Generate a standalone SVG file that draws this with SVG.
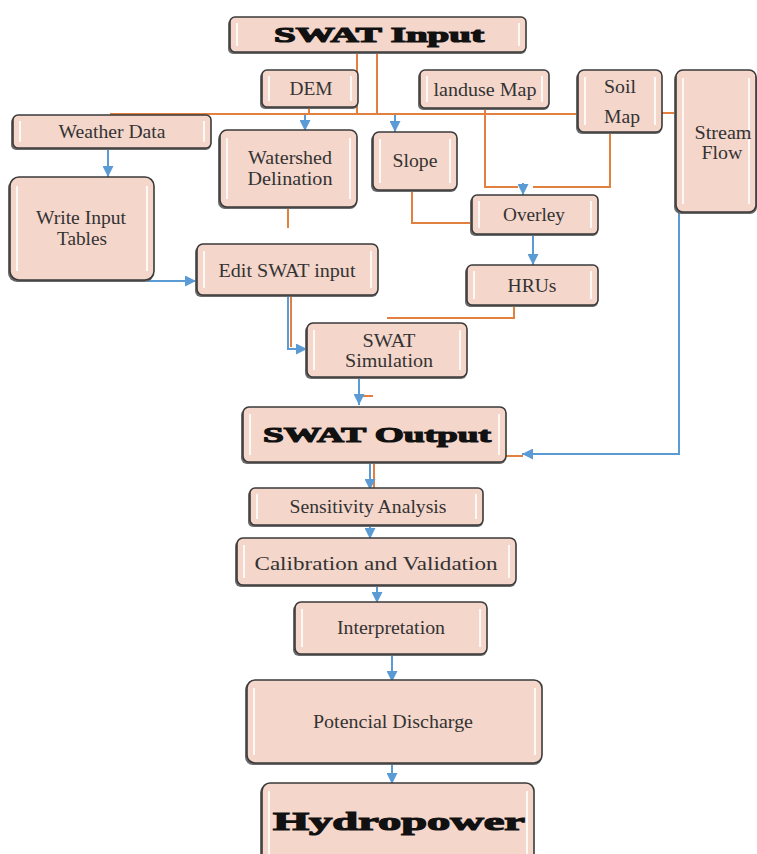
<svg xmlns="http://www.w3.org/2000/svg" width="757" height="854" viewBox="0 0 757 854">
<defs>
<marker id="ah" viewBox="0 0 10 10" refX="10" refY="5" markerWidth="11" markerHeight="11" markerUnits="userSpaceOnUse" orient="auto">
<path d="M0,0 L10,5 L0,10 z" fill="#5b9bd5"/>
</marker>
</defs>
<style>
.box{fill:#f5d6cb;stroke:#3a3a3a;stroke-width:1.6}
.sh{fill:#6a6a6a}
.hl{stroke:#ffffff;stroke-width:2;opacity:0.85;fill:none}
.t{font-family:"Liberation Serif","Times New Roman",serif;font-size:19.5px;fill:#333;text-anchor:middle}
.big{font-family:"Liberation Serif","Times New Roman",serif;font-weight:bold;fill:#111;stroke:#111;stroke-width:1.2;text-anchor:middle}
.o{stroke:#e2803f;stroke-width:2;fill:none}
.b{stroke:#5b9bd5;stroke-width:2;fill:none;marker-end:url(#ah)}
</style>
<rect width="757" height="854" fill="#ffffff"/>

<g id="connectors">
<path class="o" d="M357,52 V114" stroke-width="3"/>
<path class="o" d="M377,52 V114"/>
<path class="o" d="M110,114 H578"/>
<path class="o" d="M309,107 V114"/>
<path class="o" d="M662,113 H676"/>
<path class="o" d="M485,108 V187 H518"/>
<path class="o" d="M610,132 V187 H533"/>
<path class="o" d="M412,190 V223 H472"/>
<path class="o" d="M514,305 V318 H387"/>
<path class="o" d="M288,207 V228"/>
<path class="o" d="M360,396 H373"/>
<path class="o" d="M506,456 H523"/>
<path class="o" d="M374,462 V488"/>
<path class="o" d="M291,296 V347"/>
<path class="o" d="M195,281 H198"/>
<path class="b" d="M305,115 V131"/>
<path class="b" d="M395,115 V132"/>
<path class="b" d="M523,183 V195"/>
<path class="b" d="M108,148 V177"/>
<path class="b" d="M533,234 V265"/>
<path class="b" d="M147,281 H196"/>
<path class="b" d="M212,296 H288 V349 H307"/>
<path class="b" d="M679,212 V454 H522"/>
<path class="b" d="M359,377 V405"/>
<path class="b" d="M370,455 V490"/>
<path class="b" d="M370,525 V539"/>
<path class="b" d="M377,585 V603"/>
<path class="b" d="M392,654 V682"/>
<path class="b" d="M392,763 V784"/>
</g>

<g id="swat-input">
<rect class="sh" x="228" y="19" width="298" height="35" rx="5"/>
<rect class="box" x="230" y="17" width="296" height="35" rx="5"/>
<path class="hl" d="M237,23 V46 M519,23 V46"/>
<text class="big" x="379" y="42" font-size="21" textLength="210" lengthAdjust="spacingAndGlyphs">SWAT Input</text>
</g>

<g id="dem">
<rect class="sh" x="260" y="72" width="98" height="37" rx="5"/>
<rect class="box" x="262" y="70" width="96" height="37" rx="5"/>
<path class="hl" d="M269,76 V101 M351,76 V101"/>
<text class="t" x="311" y="95" textLength="43" lengthAdjust="spacingAndGlyphs">DEM</text>
</g>

<g id="landuse-map">
<rect class="sh" x="418" y="72" width="131" height="38" rx="5"/>
<rect class="box" x="420" y="70" width="129" height="38" rx="5"/>
<path class="hl" d="M427,76 V102 M542,76 V102"/>
<text class="t" x="485" y="96" textLength="103" lengthAdjust="spacingAndGlyphs">landuse Map</text>
</g>

<g id="soil-map">
<rect class="sh" x="576" y="72" width="86" height="62" rx="6"/>
<rect class="box" x="578" y="70" width="84" height="62" rx="6"/>
<path class="hl" d="M585,77 V125 M655,77 V125"/>
<text class="t" x="620" y="93" textLength="32" lengthAdjust="spacingAndGlyphs">Soil</text>
<text class="t" x="622" y="123" textLength="36" lengthAdjust="spacingAndGlyphs">Map</text>
</g>

<g id="stream-flow">
<rect class="sh" x="674" y="72" width="83" height="142" rx="7"/>
<rect class="box" x="676" y="70" width="80" height="142" rx="7"/>
<path class="hl" d="M683,78 V204 M749,78 V204"/>
<text class="t" x="723" y="139" textLength="57" lengthAdjust="spacingAndGlyphs">Stream</text>
<text class="t" x="722" y="159" textLength="41" lengthAdjust="spacingAndGlyphs">Flow</text>
</g>

<g id="weather-data">
<rect class="sh" x="11" y="117" width="200" height="33" rx="5"/>
<rect class="box" x="13" y="115" width="198" height="33" rx="5"/>
<path class="hl" d="M20,121 V142 M204,121 V142"/>
<text class="t" x="112" y="138" textLength="107" lengthAdjust="spacingAndGlyphs">Weather Data</text>
</g>

<g id="watershed">
<rect class="sh" x="218" y="132" width="139" height="77" rx="7"/>
<rect class="box" x="220" y="130" width="137" height="77" rx="7"/>
<path class="hl" d="M227,138 V199 M350,138 V199"/>
<text class="t" x="290" y="164" textLength="84" lengthAdjust="spacingAndGlyphs">Watershed</text>
<text class="t" x="290" y="185" textLength="85" lengthAdjust="spacingAndGlyphs">Delination</text>
</g>

<g id="slope">
<rect class="sh" x="371" y="134" width="86" height="58" rx="6"/>
<rect class="box" x="373" y="132" width="84" height="58" rx="6"/>
<path class="hl" d="M380,139 V183 M450,139 V183"/>
<text class="t" x="415" y="167" textLength="45" lengthAdjust="spacingAndGlyphs">Slope</text>
</g>

<g id="write-input">
<rect class="sh" x="8" y="179" width="146" height="103" rx="9"/>
<rect class="box" x="10" y="177" width="144" height="103" rx="9"/>
<path class="hl" d="M17,186 V271 M147,186 V271"/>
<text class="t" x="81" y="224" textLength="90" lengthAdjust="spacingAndGlyphs">Write Input</text>
<text class="t" x="82" y="245" textLength="50" lengthAdjust="spacingAndGlyphs">Tables</text>
</g>

<g id="overley">
<rect class="sh" x="470" y="197" width="128" height="39" rx="5"/>
<rect class="box" x="472" y="195" width="126" height="39" rx="5"/>
<path class="hl" d="M479,201 V228 M591,201 V228"/>
<text class="t" x="534" y="221" textLength="62" lengthAdjust="spacingAndGlyphs">Overley</text>
</g>

<g id="edit-swat">
<rect class="sh" x="195" y="246" width="183" height="51" rx="6"/>
<rect class="box" x="197" y="244" width="181" height="51" rx="6"/>
<path class="hl" d="M204,251 V288 M371,251 V288"/>
<text class="t" x="287" y="277" textLength="137" lengthAdjust="spacingAndGlyphs">Edit SWAT input</text>
</g>

<g id="hrus">
<rect class="sh" x="465" y="267" width="133" height="40" rx="5"/>
<rect class="box" x="467" y="265" width="131" height="40" rx="5"/>
<path class="hl" d="M474,271 V299 M591,271 V299"/>
<text class="t" x="532" y="292" textLength="49" lengthAdjust="spacingAndGlyphs">HRUs</text>
</g>

<g id="swat-simulation">
<rect class="sh" x="305" y="325" width="162" height="54" rx="6"/>
<rect class="box" x="307" y="323" width="160" height="54" rx="6"/>
<path class="hl" d="M314,330 V370 M460,330 V370"/>
<text class="t" x="389" y="347" textLength="53" lengthAdjust="spacingAndGlyphs">SWAT</text>
<text class="t" x="389" y="367" textLength="88" lengthAdjust="spacingAndGlyphs">Simulation</text>
</g>

<g id="swat-output">
<rect class="sh" x="241" y="409" width="265" height="55" rx="6"/>
<rect class="box" x="243" y="407" width="263" height="55" rx="6"/>
<path class="hl" d="M250,414 V455 M499,414 V455"/>
<text class="big" x="377" y="442" font-size="22" textLength="228" lengthAdjust="spacingAndGlyphs">SWAT Output</text>
</g>

<g id="sensitivity">
<rect class="sh" x="248" y="490" width="235" height="37" rx="5"/>
<rect class="box" x="250" y="488" width="233" height="37" rx="5"/>
<path class="hl" d="M257,494 V519 M476,494 V519"/>
<text class="t" x="368" y="513" textLength="157" lengthAdjust="spacingAndGlyphs">Sensitivity Analysis</text>
</g>

<g id="calibration">
<rect class="sh" x="235" y="540" width="281" height="47" rx="6"/>
<rect class="box" x="237" y="538" width="279" height="47" rx="6"/>
<path class="hl" d="M244,545 V578 M509,545 V578"/>
<text class="t" x="376" y="570" font-size="23" textLength="243" lengthAdjust="spacingAndGlyphs">Calibration and Validation</text>
</g>

<g id="interpretation">
<rect class="sh" x="293" y="604" width="194" height="52" rx="6"/>
<rect class="box" x="295" y="602" width="192" height="52" rx="6"/>
<path class="hl" d="M302,609 V647 M480,609 V647"/>
<text class="t" x="391" y="634" textLength="108" lengthAdjust="spacingAndGlyphs">Interpretation</text>
</g>

<g id="potencial-discharge">
<rect class="sh" x="245" y="682" width="297" height="83" rx="8"/>
<rect class="box" x="247" y="680" width="295" height="83" rx="8"/>
<path class="hl" d="M254,688 V755 M535,688 V755"/>
<text class="t" x="393" y="728" textLength="160" lengthAdjust="spacingAndGlyphs">Potencial Discharge</text>
</g>

<g id="hydropower">
<rect class="sh" x="260" y="785" width="274" height="90" rx="8"/>
<rect class="box" x="262" y="783" width="272" height="90" rx="8"/>
<path class="hl" d="M269,791 V854 M527,791 V854"/>
<text class="big" x="399" y="830" font-size="26" textLength="252" lengthAdjust="spacingAndGlyphs">Hydropower</text>
</g>
</svg>
